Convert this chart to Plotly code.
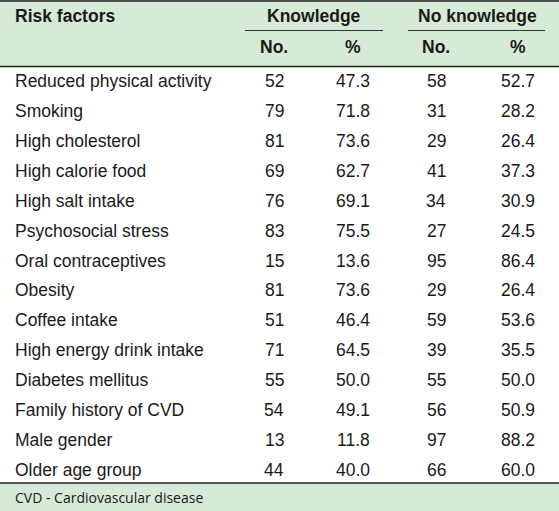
import plotly.graph_objects as go

risk_factors = ["Reduced physical activity", "Smoking", "High cholesterol", "High calorie food",
                "High salt intake", "Psychosocial stress", "Oral contraceptives", "Obesity",
                "Coffee intake", "High energy drink intake", "Diabetes mellitus",
                "Family history of CVD", "Male gender", "Older age group"]
know_no = [52, 79, 81, 69, 76, 83, 15, 81, 51, 71, 55, 54, 13, 44]
know_pct = ["47.3", "71.8", "73.6", "62.7", "69.1", "75.5", "13.6", "73.6", "46.4", "64.5", "50.0", "49.1", "11.8", "40.0"]
noknow_no = [58, 31, 29, 41, 34, 27, 95, 29, 59, 39, 55, 56, 97, 66]
noknow_pct = ["52.7", "28.2", "26.4", "37.3", "30.9", "24.5", "86.4", "26.4", "53.6", "35.5", "50.0", "50.9", "88.2", "60.0"]
group_headers = ["Knowledge", "No knowledge"]
sub_headers = ["No.", "%", "No.", "%"]
footnote = "CVD - Cardiovascular disease"

W, H = 559, 511
GREEN = "#d7e9d7"
FONT = "Liberation Sans, Arial, sans-serif"
TXT = "#1a1a1a"
FS = 17.5

row0_y, row_step = 81, 29.92
rows_y = [row0_y + i * row_step for i in range(len(risk_factors))]
col_x = [274, 353, 436, 518]
group_x = [313.5, 477]
label_x = 13

fig = go.Figure()
# invisible trace to establish axes
fig.add_trace(go.Scatter(x=[0, W], y=[0, H], mode="markers", marker=dict(opacity=0),
                         hoverinfo="skip", showlegend=False))

ann = []
def add_text(x, y, text, anchor="center", size=FS, family=FONT):
    ann.append(dict(x=x, y=y, xref="x", yref="y", text=text, showarrow=False,
                    xanchor=anchor, yanchor="middle", font=dict(family=family, size=size, color=TXT)))

for y, name in zip(rows_y, risk_factors):
    add_text(label_x, y, name, anchor="left")
for cx, vals in zip(col_x, [know_no, know_pct, noknow_no, noknow_pct]):
    for y, v in zip(rows_y, vals):
        add_text(cx, y, str(v))

add_text(label_x, 16, "<b>Risk factors</b>", anchor="left")
for gx, g in zip(group_x, group_headers):
    add_text(gx, 16, "<b>%s</b>" % g)
for cx, s in zip(col_x, sub_headers):
    add_text(cx, 47, "<b>%s</b>" % s)
add_text(label_x, 497, footnote, anchor="left", size=14, family="Open Sans, Noto Sans, sans-serif")

shapes = [
    dict(type="rect", x0=0, x1=W, y0=0, y1=66, fillcolor=GREEN, line_width=0, layer="below"),
    dict(type="rect", x0=0, x1=W, y0=483, y1=H, fillcolor=GREEN, line_width=0, layer="below"),
    dict(type="line", x0=0, x1=W, y0=1, y1=1, line=dict(color="#222", width=1.5)),
    dict(type="line", x0=0, x1=W, y0=66.5, y1=66.5, line=dict(color="#222", width=1.5)),
    dict(type="line", x0=0, x1=W, y0=483, y1=483, line=dict(color="#222", width=1.5)),
    dict(type="line", x0=245, x1=383, y0=30.5, y1=30.5, line=dict(color="#333", width=1)),
    dict(type="line", x0=408, x1=545, y0=30.5, y1=30.5, line=dict(color="#333", width=1)),
]

fig.update_layout(
    width=W, height=H, margin=dict(l=0, r=0, t=0, b=0),
    paper_bgcolor="white", plot_bgcolor="white", shapes=shapes, annotations=ann,
    xaxis=dict(range=[0, W], visible=False, fixedrange=True),
    yaxis=dict(range=[H, 0], visible=False, fixedrange=True),
)
fig.write_html("out.html", config={"displayModeBar": False},
               post_script="document.body.style.margin='0';document.body.style.overflow='hidden';")
